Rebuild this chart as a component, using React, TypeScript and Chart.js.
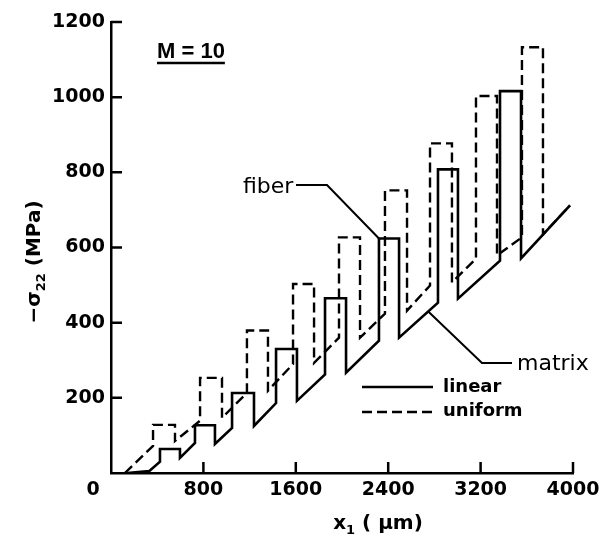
import React, { useEffect, useRef } from "react";
import { Chart, registerables } from "chart.js";

Chart.register(...registerables);

// x1 positions (μm) and -σ22 values (MPa)
const linearX = [140, 330, 424, 424, 597, 597, 727, 727, 900, 900, 1048, 1048, 1238, 1238, 1429, 1429, 1610, 1610, 1853, 1853, 2035, 2035, 2320, 2320, 2494, 2494, 2831, 2831, 3004, 3004, 3368, 3368, 3550, 3550, 3974];
const linearY = [0, 5, 30, 64, 64, 40, 80, 127, 127, 77, 120, 213, 213, 125, 186, 330, 330, 192, 262, 465, 465, 267, 352, 624, 624, 360, 453, 808, 808, 464, 565, 1016, 1016, 571, 712];

const uniformX = [120, 364, 364, 554, 554, 771, 771, 961, 961, 1177, 1177, 1359, 1359, 1576, 1576, 1758, 1758, 1974, 1974, 2156, 2156, 2372, 2372, 2563, 2563, 2762, 2762, 2952, 2952, 3160, 3160, 3342, 3342, 3558, 3558, 3740, 3740, 3974];
const uniformY = [0, 72, 128, 128, 85, 139, 253, 253, 147, 213, 379, 379, 219, 290, 503, 503, 293, 360, 627, 627, 360, 424, 752, 752, 432, 499, 877, 877, 507, 570, 1003, 1003, 579, 627, 1133, 1133, 635, 712];

const xTickValues = [800, 1600, 2400, 3200, 4000];
const yTickValues = [200, 400, 600, 800, 1000, 1200];

const seriesNames = ["linear", "uniform"];

const TICK_FONT = "bold 19px 'DejaVu Sans'";

function toPoints(xs: number[], ys: number[]) {
  return xs.map((x, i) => ({ x, y: ys[i] }));
}

const overlayPlugin = {
  id: "overlay",
  afterDraw(chart: any) {
    const ctx: CanvasRenderingContext2D = chart.ctx;
    const xs = chart.scales.x;
    const ys = chart.scales.y;
    const area = chart.chartArea;
    const px = (v: number) => xs.getPixelForValue(v);
    const py = (v: number) => ys.getPixelForValue(v);
    ctx.save();
    ctx.strokeStyle = "#000";
    ctx.fillStyle = "#000";
    ctx.lineWidth = 2.5;
    ctx.lineCap = "butt";

    // inward tick marks
    ctx.beginPath();
    xTickValues.forEach((v) => {
      const X = px(v);
      ctx.moveTo(X, area.bottom);
      ctx.lineTo(X, area.bottom - 11);
    });
    yTickValues.forEach((v) => {
      const Y = py(v);
      ctx.moveTo(area.left, Y);
      ctx.lineTo(area.left + 11, Y);
    });
    ctx.stroke();

    // origin label "0" (offset left of the axis, as in the figure)
    ctx.font = TICK_FONT;
    ctx.textAlign = "center";
    ctx.textBaseline = "top";
    ctx.fillText("0", px(0) - 18, area.bottom + 8);

    // M = 10
    ctx.textAlign = "left";
    ctx.textBaseline = "alphabetic";
    ctx.font = "bold 22px 'Liberation Sans'";
    ctx.fillText("M = 10", 157, 58);
    const mw = ctx.measureText("M = 10").width;
    ctx.beginPath();
    ctx.moveTo(157, 63);
    ctx.lineTo(157 + mw, 63);
    ctx.stroke();

    // fiber label + leader to a fiber plateau
    ctx.font = "22px 'DejaVu Sans'";
    ctx.fillText("fiber", 243, 193);
    ctx.lineWidth = 2;
    ctx.beginPath();
    ctx.moveTo(296, 185);
    ctx.lineTo(327, 185);
    ctx.lineTo(px(linearX[22]), py(linearY[23]));
    ctx.stroke();

    // matrix label + leader to a matrix segment
    const t = 0.75;
    const mx = linearX[25] + (linearX[26] - linearX[25]) * t;
    const my = linearY[25] + (linearY[26] - linearY[25]) * t;
    ctx.beginPath();
    ctx.moveTo(px(mx), py(my));
    ctx.lineTo(482, 363);
    ctx.lineTo(512, 363);
    ctx.stroke();
    ctx.fillText("matrix", 517, 370);

    // legend
    ctx.lineWidth = 2.5;
    ctx.beginPath();
    ctx.moveTo(362, 387);
    ctx.lineTo(433, 387);
    ctx.stroke();
    ctx.setLineDash([10, 5]);
    ctx.beginPath();
    ctx.moveTo(362, 412);
    ctx.lineTo(433, 412);
    ctx.stroke();
    ctx.setLineDash([]);
    ctx.font = "bold 18px 'DejaVu Sans'";
    ctx.fillText(seriesNames[0], 443, 392);
    ctx.fillText(seriesNames[1], 443, 416);

    // y-axis title: −σ22 (MPa)
    ctx.save();
    ctx.translate(35, 262);
    ctx.rotate(-Math.PI / 2);
    ctx.textBaseline = "middle";
    const big = "bold 20px 'DejaVu Sans'";
    const small = "bold 13px 'DejaVu Sans'";
    const parts: [string, string, number][] = [
      ["−σ", big, 0],
      ["22", small, 7],
      [" (MPa)", big, 0],
    ];
    let total = 0;
    parts.forEach(([s, f]) => {
      ctx.font = f;
      total += ctx.measureText(s).width;
    });
    let cx = -total / 2;
    parts.forEach(([s, f, dy]) => {
      ctx.font = f;
      ctx.fillText(s, cx, dy);
      cx += ctx.measureText(s).width;
    });
    ctx.restore();

    // x-axis title: x1 ( μm)
    const xparts: [string, string, number][] = [
      ["x", big, 0],
      ["1", small, 7],
      [" ( μm)", big, 0],
    ];
    ctx.textBaseline = "middle";
    let tw = 0;
    xparts.forEach(([s, f]) => {
      ctx.font = f;
      tw += ctx.measureText(s).width;
    });
    let xx = 378 - tw / 2;
    xparts.forEach(([s, f, dy]) => {
      ctx.font = f;
      ctx.fillText(s, xx, 524 + dy);
      xx += ctx.measureText(s).width;
    });

    ctx.restore();
  },
};

export default function App() {
  const ref = useRef<HTMLCanvasElement | null>(null);
  useEffect(() => {
    if (!ref.current) return;
    const tickFont = { family: "DejaVu Sans", size: 19, weight: "bold" as const };
    const chart = new Chart(ref.current, {
      type: "line",
      data: {
        datasets: [
          {
            label: seriesNames[0],
            data: toPoints(linearX, linearY),
            borderColor: "#000",
            borderWidth: 2.6,
            pointRadius: 0,
            tension: 0,
            fill: false,
          },
          {
            label: seriesNames[1],
            data: toPoints(uniformX, uniformY),
            borderColor: "#000",
            borderWidth: 2.4,
            borderDash: [10, 5],
            pointRadius: 0,
            tension: 0,
            fill: false,
          },
        ],
      },
      options: {
        animation: false,
        responsive: false,
        maintainAspectRatio: false,
        parsing: false as any,
        layout: { padding: { top: 22, right: 39, bottom: 0, left: 0 } },
        plugins: { legend: { display: false }, tooltip: { enabled: false } },
        scales: {
          x: {
            type: "linear",
            min: 0,
            max: 4000,
            afterBuildTicks: (s: any) => {
              s.ticks = [0, ...xTickValues].map((v) => ({ value: v }));
            },
            ticks: {
              callback: (v: any) => (v === 0 ? "" : String(v)),
              font: tickFont,
              color: "#000",
              padding: 6,
              maxRotation: 0,
              autoSkip: false,
            },
            grid: { display: false, drawTicks: false },
            border: { display: true, color: "#000", width: 2.5 },
            afterFit: (s: any) => {
              s.height = 73;
            },
          },
          y: {
            type: "linear",
            min: 0,
            max: 1200,
            afterBuildTicks: (s: any) => {
              s.ticks = [0, ...yTickValues].map((v) => ({ value: v }));
            },
            ticks: {
              callback: (v: any) => (v === 0 ? "" : String(v)),
              font: tickFont,
              color: "#000",
              padding: 6,
              autoSkip: false,
            },
            grid: { display: false, drawTicks: false },
            border: { display: true, color: "#000", width: 2.5 },
            afterFit: (s: any) => {
              s.width = 111;
            },
          },
        },
      },
      plugins: [overlayPlugin],
    });
    return () => chart.destroy();
  }, []);
  return (
    <div style={{ position: "absolute", left: 0, top: 0, width: 612, height: 546, background: "#fff" }}>
      <canvas ref={ref} width={612} height={546} />
    </div>
  );
}
